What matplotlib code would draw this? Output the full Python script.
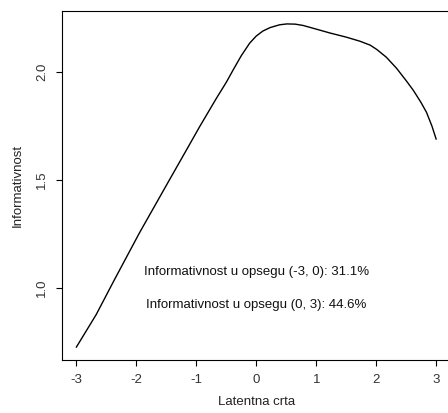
import numpy as np
import matplotlib
matplotlib.use('Agg')
import matplotlib.pyplot as plt

# test information curve over the latent trait
theta = [-3.0, -2.67, -2.37, -1.95, -1.45, -1.22, -0.94, -0.665, -0.5,
         -0.38, -0.25, -0.11, 0.0, 0.11, 0.23, 0.39, 0.51, 0.65, 0.78, 1.0,
         1.23, 1.5, 1.73, 1.9, 2.01, 2.17, 2.34, 2.5, 2.62, 2.75, 2.84, 2.93,
         3.0]
info = [0.728, 0.878, 1.037, 1.255, 1.500, 1.612, 1.749, 1.878, 1.952,
        2.012, 2.075, 2.133, 2.166, 2.189, 2.205, 2.218, 2.222, 2.221, 2.215,
        2.198, 2.180, 2.161, 2.142, 2.124, 2.104, 2.068, 2.017, 1.960, 1.915,
        1.858, 1.813, 1.750, 1.690]

xticks = [-3, -2, -1, 0, 1, 2, 3]
yticks = [1.0, 1.5, 2.0]
notes = ['Informativnost u opsegu (-3, 0): 31.1%',
         'Informativnost u opsegu (0, 3): 44.6%']
note_y = [1.075, 0.922]

plt.rcParams['font.family'] = ['Liberation Sans', 'DejaVu Sans']
plt.rcParams['font.size'] = 9.5

fig = plt.figure(figsize=(4.48, 4.13), dpi=100)
ax = fig.add_axes([62 / 448, 53 / 413, 388.5 / 448, 349 / 413])
ax.plot(theta, info, color='black', lw=1.0)

x_pad = 0.04 * (max(theta) - min(theta))
y_pad = 0.04 * (max(info) - min(info))
ax.set_xlim(min(theta) - x_pad, max(theta) + x_pad)
ax.set_ylim(min(info) - y_pad, max(info) + y_pad)

for yy, s in zip(note_y, notes):
    ax.text(0, yy, s, ha='center', va='center', color='#111111')

ax.set_xticks(xticks)
ax.set_xticklabels([str(v) for v in xticks])
ax.set_yticks(yticks)
ax.set_yticklabels(['%.1f' % v for v in yticks], rotation=90, va='center')
ax.tick_params(direction='out', length=4.5, width=0.8, pad=5.5,
               colors='black', labelcolor='#333333')
for side in ['left', 'bottom', 'top', 'right']:
    ax.spines[side].set_linewidth(0.8)

ax.set_xlabel('Latentna crta', labelpad=7, color='#222222')
ax.set_ylabel('Informativnost', labelpad=9, color='#222222')

fig.savefig('out.png', dpi=100)
